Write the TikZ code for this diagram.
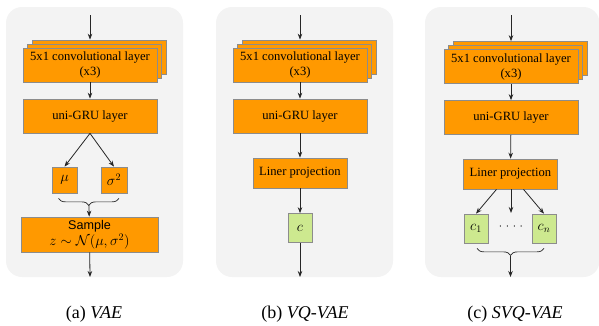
\documentclass[tikz,border=0pt]{standalone}
\usepackage{fontspec}
\setmainfont{Liberation Serif}
\setsansfont{Liberation Sans}
\usetikzlibrary{arrows.meta,decorations.pathreplacing}
\definecolor{bgc}{HTML}{F3F3F3}
\definecolor{orng}{HTML}{FF9900}
\definecolor{grn}{HTML}{CDE98F}
\definecolor{bordc}{HTML}{8C8C8C}
\tikzset{
  panel/.style={fill=bgc, draw=none, rounded corners=16pt},
  ob/.style={draw=bordc, fill=orng, line width=0.7pt, inner sep=0pt, align=center, font=\fontsize{12.6}{15}\selectfont},
  gb/.style={draw=bordc, fill=grn, line width=0.7pt, inner sep=0pt, align=center, font=\fontsize{14.5}{16}\selectfont},
  convbox/.style={ob, minimum width=134pt, minimum height=34pt},
  grubox/.style={ob, minimum width=134pt, minimum height=34pt},
  linbox/.style={ob, minimum width=94pt, minimum height=30pt},
  cbox/.style={gb, minimum width=24pt, minimum height=29pt},
  mbox/.style={ob, minimum height=26pt, font=\fontsize{14.5}{16}\selectfont},
  arr/.style={-{Stealth[length=6pt,width=4.5pt]}, line width=0.8pt, draw=black!85},
  brc/.style={decorate, decoration={brace, amplitude=7pt, mirror}, line width=0.7pt, draw=black!85},
  captext/.style={font=\fontsize{18}{20}\selectfont, inner sep=0pt}
}
\begin{document}
\begin{tikzpicture}[x=1pt,y=-1pt]
\useasboundingbox (0,0) rectangle (599,325);
% ---------- panel (a)
\fill[panel] (6,7) rectangle (183,277);
\coordinate (ina) at (90,15);
\node[convbox] (ca3) at (99,57) {};
\node[convbox] (ca2) at (94.5,61) {};
\node[convbox] (ca) at (90,65) {5x1 convolutional layer\\(x3)};
\node[grubox] (ga) at (90,116) {uni-GRU layer};
\node[mbox, minimum width=25pt] (mu) at (64.5,180) {$\mu$};
\node[mbox, minimum width=26pt] (sg) at (114,180) {$\sigma^2$};
\node[ob, minimum width=137pt, minimum height=35pt, font=\fontsize{12.6}{16}\selectfont] (sa) at (89.5,234.5) {\sffamily Sample\\\fontsize{14.5}{16}\selectfont$z\sim\mathcal{N}(\mu,\sigma^2)$};
\coordinate (bta) at (89,205);
\coordinate (outa) at (90,277);
\draw[arr] (ina) -- (ina |- ca3.north);
\draw[arr] (ca) -- (ga);
\draw[arr] (ga.south) -- (mu.north);
\draw[arr] (ga.south) -- (sg.north);
\draw[brc] ([shift={(-6,5)}]mu.south) -- ([shift={(5,5)}]sg.south);
\draw[arr] (bta) -- (sa);
\draw[arr] (sa) -- (outa);
\node[captext] (capa) at (94,314) {(a) \textit{VAE}};
% ---------- panel (b)
\fill[panel] (216,7) rectangle (393,277);
\coordinate (inb) at (300,15);
\node[convbox] (cb3) at (309,57) {};
\node[convbox] (cb2) at (304.5,61) {};
\node[convbox] (cb) at (300,65) {5x1 convolutional layer\\(x3)};
\node[grubox] (gbb) at (300,116) {uni-GRU layer};
\node[linbox] (lb) at (300,173) {Liner projection};
\node[cbox] (cc) at (300,228) {$c$};
\coordinate (outb) at (300,277);
\draw[arr] (inb) -- (inb |- cb3.north);
\draw[arr] (cb) -- (gbb);
\draw[arr] (gbb) -- (lb);
\draw[arr] (lb) -- (cc);
\draw[arr] (cc) -- (outb);
\node[captext] (capb) at (305,314) {(b) \textit{VQ-VAE}};
% ---------- panel (c)
\fill[panel] (425,7) rectangle (599.5,277);
\coordinate (inc) at (511,15);
\node[convbox] (cs3) at (520,58.5) {};
\node[convbox] (cs2) at (515.5,62.5) {};
\node[convbox] (cs) at (511,66.5) {5x1 convolutional layer\\(x3)};
\node[grubox] (gc) at (511,117.5) {uni-GRU layer};
\node[linbox] (lc) at (510.5,174) {Liner projection};
\node[cbox] (c1) at (476,228.5) {$c_1$};
\node[cbox] (cn) at (544,228.5) {$c_n$};
\node[inner sep=0pt, font=\fontsize{12}{14}\selectfont] (dots) at (511,227) {$\mathord{\cdot}\hspace{3.6pt}\mathord{\cdot}\hspace{3.6pt}\mathord{\cdot}\hspace{3.6pt}\mathord{\cdot}$};
\coordinate (mid) at (511,213);
\coordinate (btc) at (510.5,256);
\coordinate (outc) at (510.5,277);
\draw[arr] (inc) -- (inc |- cs3.north);
\draw[arr] (cs) -- (gc);
\draw[arr] (gc) -- (lc);
\draw[arr] ([xshift=-14pt]lc.south) -- (c1.north);
\draw[arr] (lc.south -| mid) -- (mid);
\draw[arr] ([xshift=13pt]lc.south) -- (cn.north);
\draw[brc] ([shift={(1,5)}]c1.south) -- ([shift={(0,5)}]cn.south);
\draw[arr] (btc) -- (outc);
\node[captext] (capc) at (515,314) {(c) \textit{SVQ-VAE}};
\end{tikzpicture}
\end{document}
